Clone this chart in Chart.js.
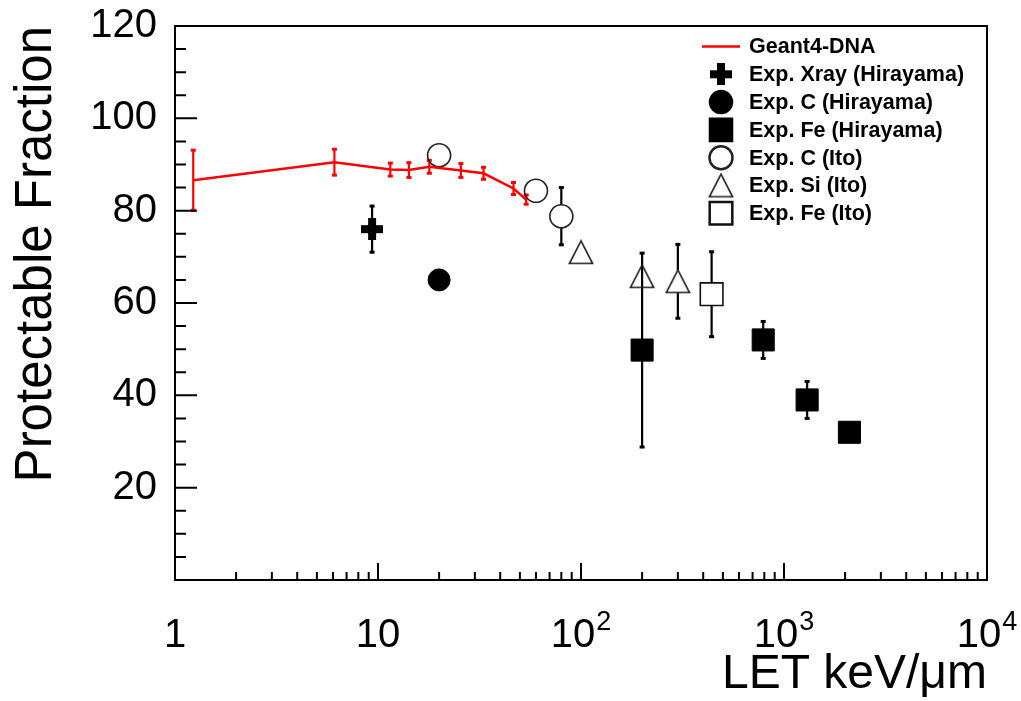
<!DOCTYPE html>
<html>
<head>
<meta charset="utf-8">
<script src="https://cdn.jsdelivr.net/npm/chart.js@4/dist/chart.umd.min.js"></script>
<style>
  html, body { margin: 0; padding: 0; background: #fff; }
  #wrap { width: 1021px; height: 701px; }
</style>
</head>
<body>
<div id="wrap"><canvas id="chart" width="1021" height="701"></canvas></div>
<script>
// Geant4-DNA simulation (LET in keV/um, protectable fraction in %)
const g4Let  = [1.23, 6.1, 11.5, 14.2, 17.9, 25.6, 33.1, 46.5, 53.7];
const g4Frac = [86.6, 90.5, 88.9, 88.8, 89.5, 88.7, 88.1, 84.8, 82.4];
const g4Err  = [6.5, 2.8, 1.4, 1.6, 1.4, 1.5, 1.3, 1.3, 1.0];

// Hirayama measurements
const xrayLet  = [9.35];
const xrayFrac = [76];
const xrayErr  = [5];
const cHirLet  = [20];
const cHirFrac = [65];
const feHirLet  = [200, 790, 1300, 2100];
const feHirFrac = [49.8, 52, 39, 32];
const feHirErr  = [21, 4, 4, 0];

// Ito measurements
const cItoLet   = [20, 60, 80];
const cItoFrac  = [92, 84.3, 78.8];
const cItoErr   = [0, 0, 6.2];
const siItoLet  = [100, 200, 300];
const siItoFrac = [71, 65.8, 64.7];
const siItoErr  = [0, 0, 8];
const feItoLet  = [440];
const feItoFrac = [61.9];
const feItoErr  = [9.2];

// axes
const xDecades = [1, 10, 100, 1000, 10000];
const xDecadeBase = ['1', '10', '10', '10', '10'];
const xDecadeExp  = ['', '', '2', '3', '4'];
const yLabelValues = [20, 40, 60, 80, 100, 120];

const FONT = '"Liberation Sans", Arial, Helvetica, sans-serif';

function pts(xs, ys) {
  return xs.map((x, i) => ({ x: x, y: ys[i] }));
}

// small canvases used as point styles
function markerCanvas(size, draw) {
  const c = document.createElement('canvas');
  c.width = size; c.height = size;
  draw(c.getContext('2d'), size);
  return c;
}
const crossMarker = markerCanvas(22, (g, s) => {
  g.fillStyle = '#000';
  const t = 8, o = (s - t) / 2;
  g.fillRect(o, 0, t, s);
  g.fillRect(0, o, s, t);
});
const triMarker = markerCanvas(26, (g, s) => {
  g.strokeStyle = '#222';
  g.lineWidth = 1.6;
  g.beginPath();
  g.moveTo(s / 2, 1.7);
  g.lineTo(s - 1.4, s - 1.7);
  g.lineTo(1.4, s - 1.7);
  g.closePath();
  g.stroke();
});

// error bars, drawn under the markers; open markers leave a gap
const errorBars = {
  id: 'errorBars',
  beforeDatasetsDraw(chart) {
    const ctx = chart.ctx, xs = chart.scales.x, ys = chart.scales.y;
    chart.data.datasets.forEach(ds => {
      if (!ds.errY) return;
      ctx.save();
      ctx.strokeStyle = ds.errColor;
      ctx.fillStyle = ds.errColor;
      ctx.lineWidth = 2.2;
      ds.data.forEach((p, j) => {
        const e = ds.errY[j];
        if (!e) return;
        const px = xs.getPixelForValue(p.x);
        const py = ys.getPixelForValue(p.y);
        const top = ys.getPixelForValue(p.y + e);
        const bot = ys.getPixelForValue(p.y - e);
        const gap = ds.errGap || 0;
        ctx.beginPath();
        if (top < py - gap) { ctx.moveTo(px, top); ctx.lineTo(px, py - gap); }
        if (bot > py + gap) { ctx.moveTo(px, py + gap); ctx.lineTo(px, bot); }
        ctx.stroke();
        ctx.fillRect(px - 2.5, top - 1.5, 5, 3);
        ctx.fillRect(px - 2.5, bot - 1.5, 5, 3);
      });
      ctx.restore();
    });
  }
};

// ROOT-like frame with inward ticks, and decade labels with superscripts
const frameTicks = {
  id: 'frameTicks',
  afterDraw(chart) {
    const ctx = chart.ctx, a = chart.chartArea;
    const xs = chart.scales.x, ys = chart.scales.y;
    ctx.save();
    ctx.strokeStyle = '#000';
    ctx.lineWidth = 2;
    ctx.strokeRect(a.left, a.top, a.right - a.left, a.bottom - a.top);
    ctx.beginPath();
    xs.ticks.forEach(t => {
      const px = xs.getPixelForValue(t.value);
      const len = xDecades.includes(t.value) ? 17 : 8;
      ctx.moveTo(px, a.bottom);
      ctx.lineTo(px, a.bottom - len);
    });
    ys.ticks.forEach(t => {
      const py = ys.getPixelForValue(t.value);
      const len = t.value % 20 === 0 ? 22 : 11;
      ctx.moveTo(a.left, py);
      ctx.lineTo(a.left + len, py);
    });
    ctx.stroke();

    ctx.fillStyle = '#000';
    ctx.textBaseline = 'alphabetic';
    ctx.textAlign = 'left';
    const baseY = a.bottom + 67;
    xDecades.forEach((d, i) => {
      const px = xs.getPixelForValue(d);
      ctx.font = '40px ' + FONT;
      const wb = ctx.measureText(xDecadeBase[i]).width;
      ctx.font = '27px ' + FONT;
      const we = xDecadeExp[i] ? ctx.measureText(xDecadeExp[i]).width + 1 : 0;
      const x0 = px - (wb + we) / 2;
      ctx.font = '40px ' + FONT;
      ctx.fillText(xDecadeBase[i], x0, baseY);
      if (we) {
        ctx.font = '27px ' + FONT;
        ctx.fillText(xDecadeExp[i], x0 + wb + 1, baseY - 17);
      }
    });
    ctx.restore();
  }
};

// legend in the upper right corner
const cornerLegend = {
  id: 'cornerLegend',
  afterDraw(chart) {
    const ctx = chart.ctx;
    const x0 = 721, tx = 749, y0 = 46.5, step = 27.8;
    ctx.save();
    ctx.font = 'bold 21.5px ' + FONT;
    ctx.textBaseline = 'middle';
    ctx.textAlign = 'left';
    chart.data.datasets.forEach((ds, i) => {
      const y = y0 + i * step;
      if (ds.showLine) {
        ctx.strokeStyle = ds.borderColor;
        ctx.lineWidth = ds.borderWidth;
        ctx.beginPath();
        ctx.moveTo(702, y);
        ctx.lineTo(740, y);
        ctx.stroke();
      } else {
        ctx.fillStyle = ds.pointBackgroundColor;
        ctx.strokeStyle = ds.pointBorderColor;
        Chart.helpers.drawPoint(ctx, {
          pointStyle: ds.pointStyle,
          radius: ds.pointRadius,
          rotation: 0,
          borderWidth: ds.pointBorderWidth
        }, x0, y);
      }
      ctx.fillStyle = '#000';
      ctx.fillText(ds.label, tx, y + 1);
    });
    ctx.restore();
  }
};

function noPadding(scale) {
  scale.paddingLeft = 0;
  scale.paddingRight = 0;
  scale.paddingTop = 0;
  scale.paddingBottom = 0;
}

Chart.defaults.font.family = FONT;
Chart.defaults.color = '#000';

new Chart(document.getElementById('chart'), {
  type: 'scatter',
  data: {
    datasets: [
      {
        label: 'Geant4-DNA',
        data: pts(g4Let, g4Frac),
        errY: g4Err, errColor: '#ff0000',
        showLine: true, borderColor: '#ff0000', borderWidth: 2.5,
        pointRadius: 0, tension: 0
      },
      {
        label: 'Exp. Xray (Hirayama)',
        data: pts(xrayLet, xrayFrac),
        errY: xrayErr, errColor: '#000',
        pointStyle: crossMarker, pointRadius: 11,
        pointBackgroundColor: '#000', pointBorderColor: '#000', pointBorderWidth: 0
      },
      {
        label: 'Exp. C (Hirayama)',
        data: pts(cHirLet, cHirFrac),
        pointStyle: 'circle', pointRadius: 11,
        pointBackgroundColor: '#000', pointBorderColor: '#000', pointBorderWidth: 1
      },
      {
        label: 'Exp. Fe (Hirayama)',
        data: pts(feHirLet, feHirFrac),
        errY: feHirErr, errColor: '#000',
        pointStyle: 'rect', pointRadius: 15.6,
        pointBackgroundColor: '#000', pointBorderColor: '#000', pointBorderWidth: 1
      },
      {
        label: 'Exp. C (Ito)',
        data: pts(cItoLet, cItoFrac),
        errY: cItoErr, errColor: '#000', errGap: 11.5,
        pointStyle: 'circle', pointRadius: 11.5,
        pointBackgroundColor: 'rgba(0,0,0,0)', pointBorderColor: '#222', pointBorderWidth: 1.6
      },
      {
        label: 'Exp. Si (Ito)',
        data: pts(siItoLet, siItoFrac),
        errY: siItoErr, errColor: '#000', errGap: 11.3,
        pointStyle: triMarker, pointRadius: 12,
        pointBackgroundColor: 'rgba(0,0,0,0)', pointBorderColor: '#222', pointBorderWidth: 0
      },
      {
        label: 'Exp. Fe (Ito)',
        data: pts(feItoLet, feItoFrac),
        errY: feItoErr, errColor: '#000', errGap: 11.5,
        pointStyle: 'rect', pointRadius: 16,
        pointBackgroundColor: 'rgba(0,0,0,0)', pointBorderColor: '#111', pointBorderWidth: 1.6
      }
    ]
  },
  options: {
    responsive: false,
    devicePixelRatio: 1,
    animation: false,
    events: [],
    layout: { padding: { left: 0, top: 26, right: 34, bottom: 0 } },
    plugins: {
      legend: { display: false },
      tooltip: { enabled: false }
    },
    scales: {
      x: {
        type: 'logarithmic',
        min: 1,
        max: 10000,
        grid: { display: false, drawTicks: false },
        border: { display: false },
        afterBuildTicks: scale => {
          const vals = [];
          xDecades.forEach((d, i) => {
            vals.push(d);
            if (i < xDecades.length - 1) {
              for (let k = 2; k <= 9; k++) vals.push(d * k);
            }
          });
          scale.ticks = vals.map(v => ({ value: v }));
        },
        afterFit: scale => { scale.height = 121; noPadding(scale); },
        ticks: {
          display: false,
          autoSkip: false
        },
        title: {
          display: true,
          text: 'LET keV/μm',
          align: 'end',
          padding: 0,
          font: { size: 48, lineHeight: 1.1 }
        }
      },
      y: {
        min: 0,
        max: 120,
        grid: { display: false, drawTicks: false },
        border: { display: false },
        afterFit: scale => { scale.width = 175; noPadding(scale); },
        ticks: {
          stepSize: 5,
          autoSkip: false,
          padding: 18,
          font: { size: 40 },
          callback: v => (yLabelValues.includes(v) ? String(v) : '')
        },
        title: {
          display: true,
          text: 'Protectable Fraction',
          align: 'end',
          padding: { top: 6, bottom: 0 },
          font: { size: 51, lineHeight: 1.2 }
        }
      }
    }
  },
  plugins: [errorBars, frameTicks, cornerLegend]
});
</script>
</body>
</html>
